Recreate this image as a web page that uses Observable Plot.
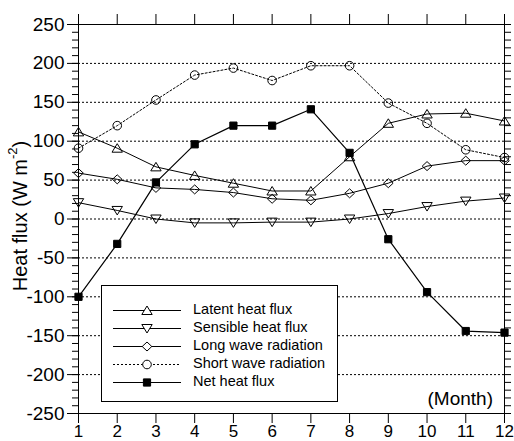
<!DOCTYPE html>
<html>
<head>
<meta charset="utf-8">
<script src="https://cdn.jsdelivr.net/npm/d3@7"></script>
<script src="https://cdn.jsdelivr.net/npm/@observablehq/plot@0.6"></script>
<style>
  html, body { margin: 0; padding: 0; background: white; }
  #chart svg { display: block; }
</style>
</head>
<body>
<div id="chart"></div>
<script>
// Monthly heat budget components (W m^-2)
const months = [1, 2, 3, 4, 5, 6, 7, 8, 9, 10, 11, 12];
const latentHeat = [112, 91, 67, 56, 46, 36, 36, 80, 123, 135, 136, 126];
const sensibleHeat = [21, 11, 0, -5, -5, -4, -4, 0, 7, 16, 23, 27];
const longWave = [59, 51, 40, 38, 34, 26, 24, 33, 46, 68, 75, 75];
const shortWave = [91, 120, 153, 185, 194, 178, 197, 197, 149, 123, 89, 79];
const netHeat = [-100, -32, 47, 96, 120, 120, 141, 85, -26, -94, -144, -146];

const yTicks = [-250, -200, -150, -100, -50, 0, 50, 100, 150, 200, 250];
const yGrid = [-200, -150, -100, -50, 0, 50, 100, 150, 200];
const yMinor = d3.range(-250, 251, 10);

// Marker shapes (fixed pixel size)
const triUp = { draw(ctx) { ctx.moveTo(0, -4.5); ctx.lineTo(5.2, 4); ctx.lineTo(-5.2, 4); ctx.closePath(); } };
const triDown = { draw(ctx) { ctx.moveTo(0, 4.5); ctx.lineTo(5.2, -4); ctx.lineTo(-5.2, -4); ctx.closePath(); } };
const diamond = { draw(ctx) { ctx.moveTo(0, -4.5); ctx.lineTo(4.8, 0); ctx.lineTo(0, 4.5); ctx.lineTo(-4.8, 0); ctx.closePath(); } };
const circle = { draw(ctx) { ctx.moveTo(4.3, 0); ctx.arc(0, 0, 4.3, 0, 2 * Math.PI); } };
const square = { draw(ctx) { ctx.rect(-3.6, -3.6, 7.2, 7.2); } };

const series = [
  { name: "Latent heat flux", values: latentHeat, symbol: triUp, fill: "none", dash: null, width: 1 },
  { name: "Sensible heat flux", values: sensibleHeat, symbol: triDown, fill: "none", dash: null, width: 1 },
  { name: "Long wave radiation", values: longWave, symbol: diamond, fill: "none", dash: null, width: 1 },
  { name: "Short wave radiation", values: shortWave, symbol: circle, fill: "none", dash: "2,2", width: 1 },
  { name: "Net heat flux", values: netHeat, symbol: square, fill: "black", dash: null, width: 1.2 }
];

const seriesMarks = series.flatMap((s) => {
  const rows = months.map((m, i) => ({ month: m, value: s.values[i] }));
  return [
    Plot.line(rows, { x: "month", y: "value", stroke: "black", strokeWidth: s.width, strokeDasharray: s.dash }),
    Plot.dot(rows, { x: "month", y: "value", symbol: s.symbol, r: 4, stroke: "black", strokeWidth: 1, fill: s.fill })
  ];
});

const svg = Plot.plot({
  width: 514,
  height: 441,
  marginLeft: 78,
  marginRight: 10,
  marginTop: 24,
  marginBottom: 28,
  style: { fontFamily: "'Liberation Sans', Arial, sans-serif", fontSize: "19px", background: "white", color: "black" },
  x: { domain: [1, 12] },
  y: { domain: [-250, 250] },
  marks: [
    Plot.gridY(yGrid, { stroke: "black", strokeOpacity: 1, strokeWidth: 1, strokeDasharray: "2,2" }),
    ...seriesMarks,
    Plot.frame({ stroke: "black", strokeWidth: 1 }),
    Plot.axisX({ anchor: "bottom", ticks: months, tickSize: 10, tickPadding: 1, fontSize: 17, label: null, tickFormat: (d) => String(d) }),
    Plot.axisX({ anchor: "top", ticks: months, tickSize: 11, label: null, tickFormat: () => "" }),
    Plot.axisY({ anchor: "left", ticks: yTicks, tickSize: 11, tickPadding: 3, fontSize: 19, label: null, tickFormat: (d) => String(d) }),
    Plot.axisY({ anchor: "left", ticks: yMinor, tickSize: 6, label: null, tickFormat: () => "" }),
    Plot.axisY({ anchor: "right", ticks: yMinor, tickSize: 6, label: null, tickFormat: () => "" })
  ]
});

document.getElementById("chart").appendChild(svg);

const root = d3.select(svg);
const font = "'Liberation Sans', Arial, sans-serif";

// Y axis title with superscript unit
const yTitle = root.append("text")
  .attr("transform", "translate(22,216) rotate(-90)")
  .attr("text-anchor", "middle")
  .attr("dominant-baseline", "middle")
  .attr("font-family", font)
  .attr("font-size", 20)
  .attr("fill", "black");
yTitle.append("tspan").text("Heat flux (W m");
yTitle.append("tspan").attr("font-size", 13).attr("dy", -8).text("-2");
yTitle.append("tspan").attr("dy", 8).text(")");

// X axis unit note
root.append("text")
  .attr("x", 493).attr("y", 400)
  .attr("text-anchor", "end")
  .attr("dominant-baseline", "middle")
  .attr("font-family", font)
  .attr("font-size", 19)
  .attr("fill", "black")
  .text("(Month)");

// Legend
const lg = root.append("g").attr("text-anchor", "start");
lg.append("rect")
  .attr("x", 101.5).attr("y", 285.5).attr("width", 236).attr("height", 116)
  .attr("fill", "white").attr("stroke", "black").attr("stroke-width", 1);
series.forEach((s, i) => {
  const y = 310 + i * 18;
  lg.append("line")
    .attr("x1", 113).attr("x2", 181).attr("y1", y + 0.5).attr("y2", y + 0.5)
    .attr("stroke", "black").attr("stroke-width", s.width)
    .attr("stroke-dasharray", s.dash);
  lg.append("path")
    .attr("transform", `translate(147,${y + 0.5})`)
    .attr("d", d3.symbol().type(s.symbol)())
    .attr("fill", s.fill === "none" ? "white" : s.fill)
    .attr("stroke", "black").attr("stroke-width", 1);
  lg.append("text")
    .attr("x", 193).attr("y", y)
    .attr("text-anchor", "start")
    .attr("dominant-baseline", "middle")
    .attr("font-family", font)
    .attr("font-size", 14.5)
    .attr("fill", "black")
    .text(s.name);
});
</script>
</body>
</html>
